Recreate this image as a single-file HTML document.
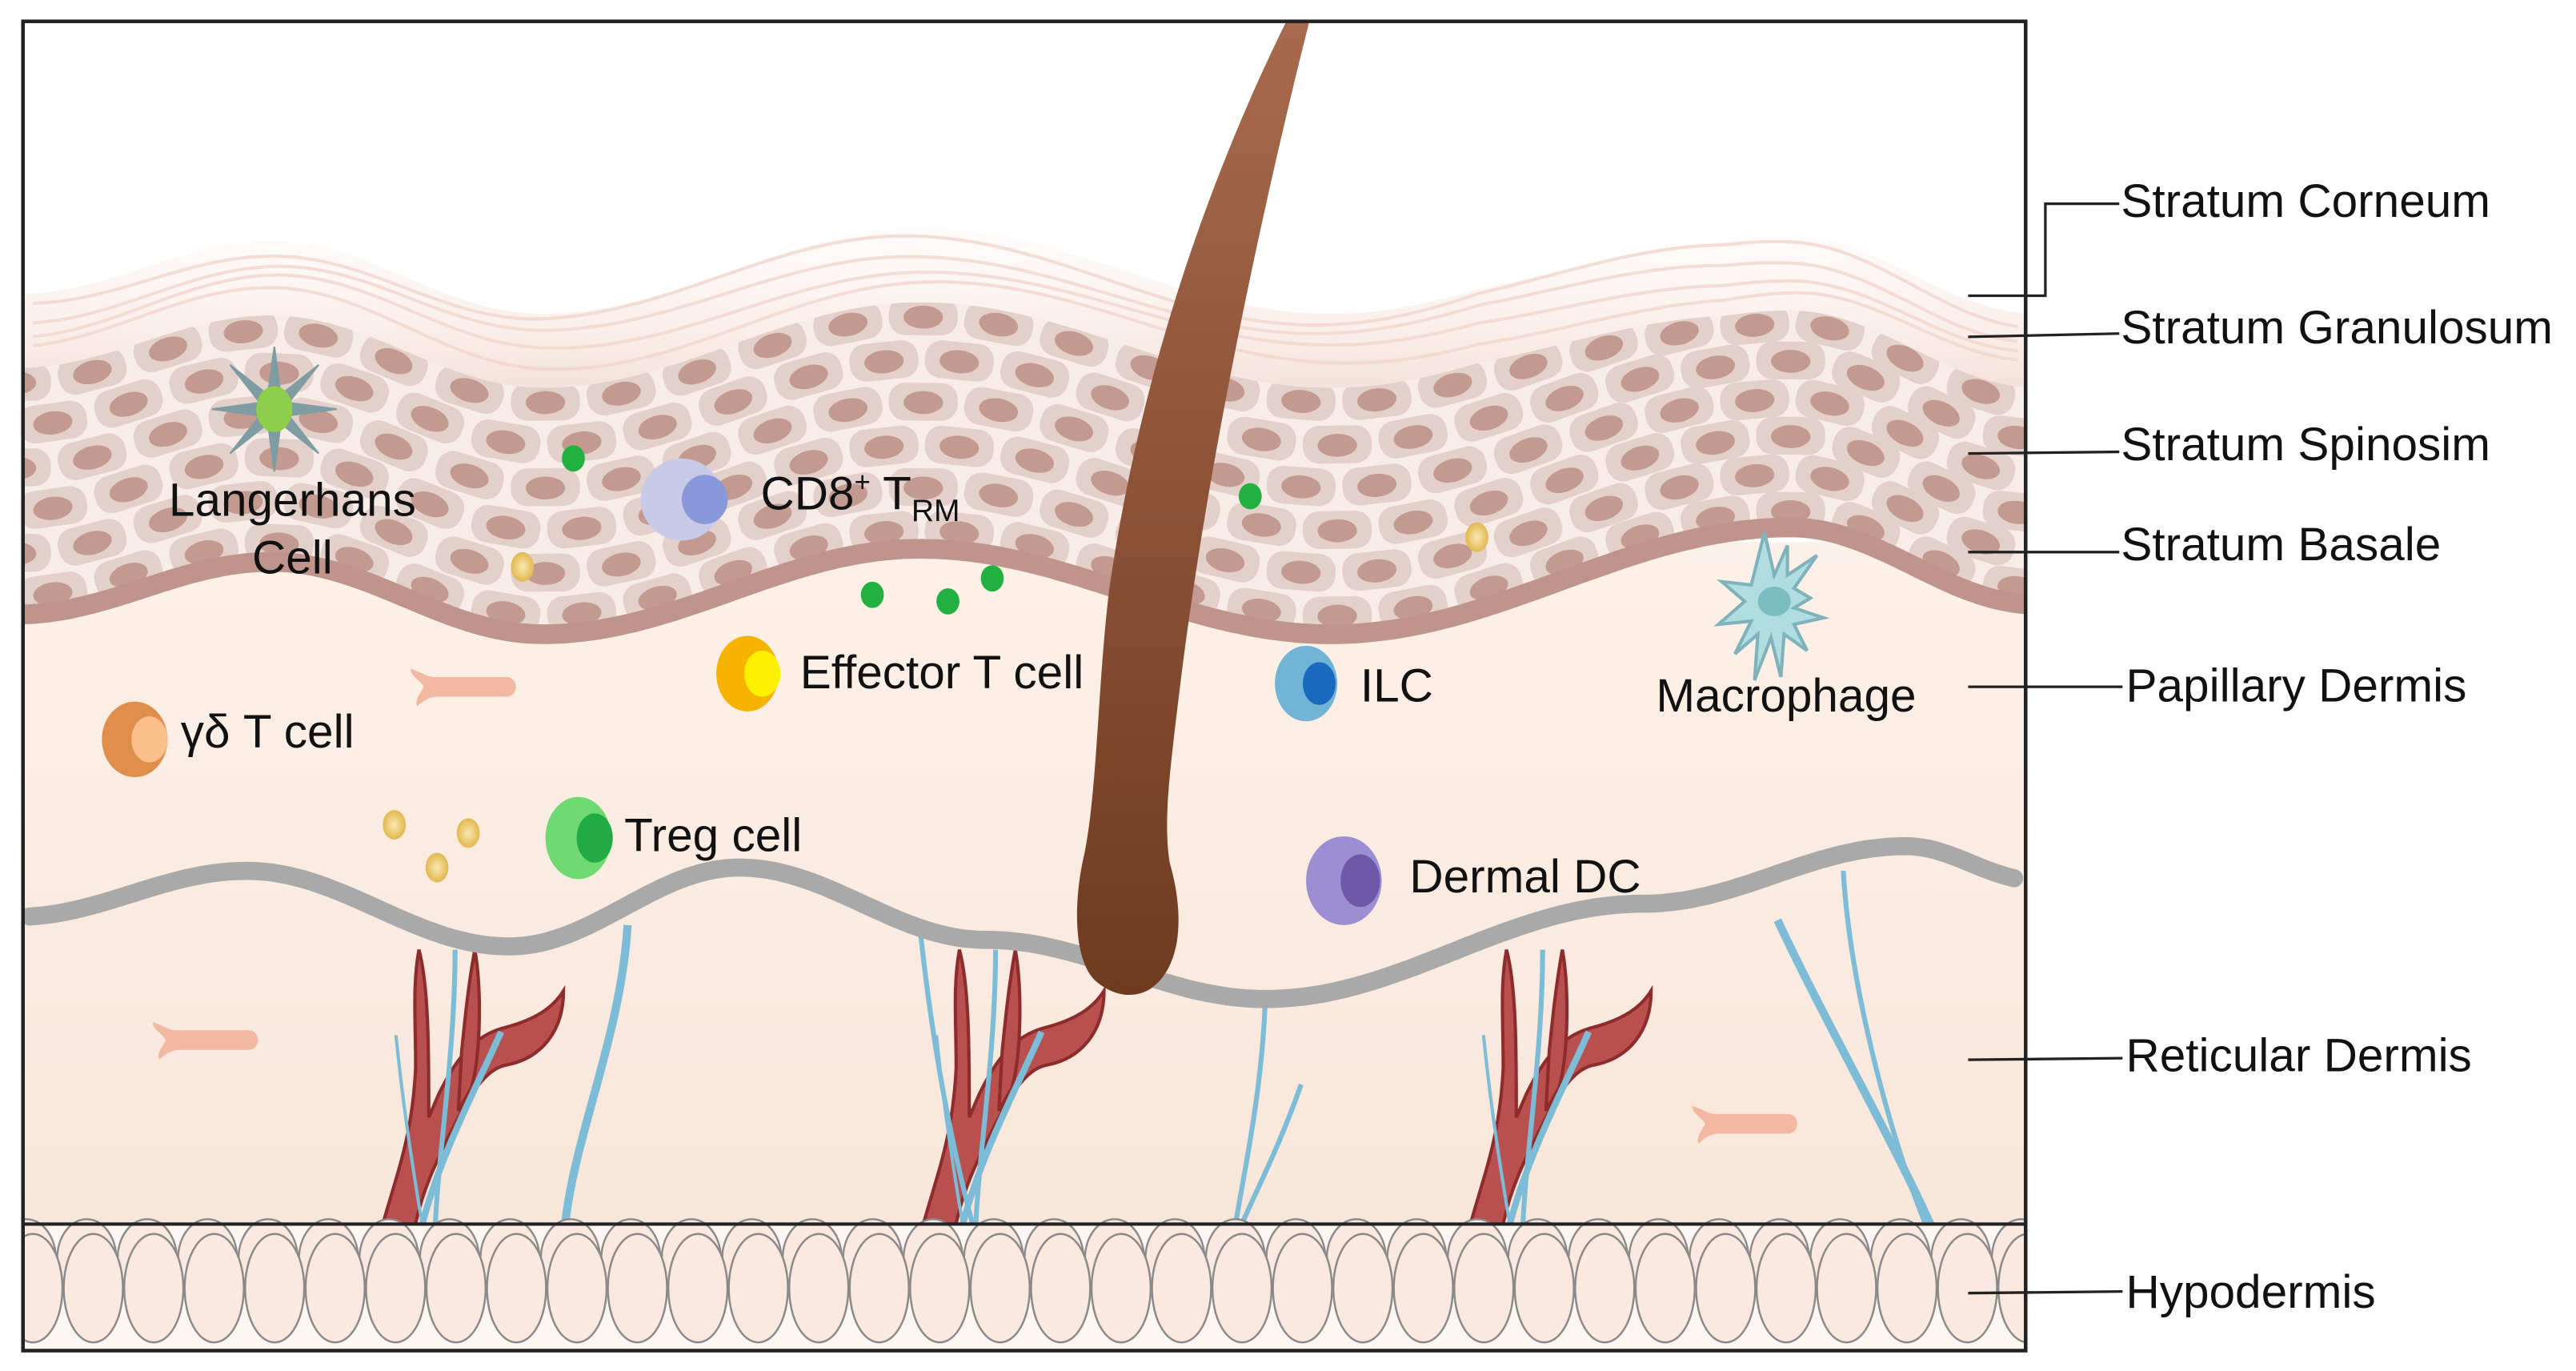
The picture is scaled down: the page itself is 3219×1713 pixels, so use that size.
<!DOCTYPE html>
<html><head><meta charset="utf-8">
<style>
html,body{margin:0;padding:0;background:#fff;}
svg{display:block;}
text{font-family:"Liberation Sans",Arial,sans-serif;fill:#111;}
</style></head>
<body>
<svg id="s" width="3219" height="1713" viewBox="0 0 1568 834.4" preserveAspectRatio="none" xmlns="http://www.w3.org/2000/svg">
<defs>
<linearGradient id="derm" x1="0" y1="0" x2="0" y2="1">
<stop offset="0" stop-color="#fcf1e8"/><stop offset="1" stop-color="#f9e6da"/>
</linearGradient>
<linearGradient id="hair" x1="0" y1="0" x2="0" y2="1">
<stop offset="0" stop-color="#a86a4c"/><stop offset="1" stop-color="#6e3a20"/>
</linearGradient>
<linearGradient id="gran" x1="0" y1="0" x2="0" y2="1">
<stop offset="0" stop-color="#fbf0ec" stop-opacity="0.2"/><stop offset="1" stop-color="#f3ddd5"/>
</linearGradient>
<radialGradient id="yel"><stop offset="0" stop-color="#f8e8b0"/><stop offset="1" stop-color="#e2b850"/></radialGradient>
<clipPath id="frame"><rect x="15" y="14" width="1217" height="807"/></clipPath>
</defs>
<rect x="0" y="0" width="1568" height="834.4" fill="#fff"/>
<g clip-path="url(#frame)">
<rect x="14" y="330" width="1220" height="420" fill="url(#derm)"/>
<g id="epi"></g>
<g id="vessels"></g>
<path id="gray" fill="none" stroke="#a9a9a9" stroke-width="11" stroke-linecap="round"/>
<path d="M783,13 L797,13 C770,120 735,280 718,420 C712,470 708,500 712,525 C722,560 718,590 700,602 C690,608 678,606 668,598 C652,585 654,545 660,520 C668,480 668,420 675,360 C695,220 740,100 783,13 Z" fill="url(#hair)"/>
<g id="hypo"></g>
</g>
<rect x="14" y="13" width="1219" height="809" fill="none" stroke="#222" stroke-width="2.2"/>
<line x1="14" y1="745" x2="1233" y2="745" stroke="#222" stroke-width="2"/>

<g transform="translate(167,249)" stroke="#7f9ca3" fill="#7f9ca3">
<path d="M0,-38 L4,-8 L0,0 L-4,-8Z M0,38 L4,8 L0,0 L-4,8Z M-38,0 L-8,4 L0,0 L-8,-4Z M38,0 L8,4 L0,0 L8,-4Z M-27,-27 L-3,-8 L-8,-3Z M27,-27 L3,-8 L8,-3Z M-27,27 L-3,8 L-8,3Z M27,27 L3,8 L8,3Z" stroke-width="1"/>
<ellipse cx="0" cy="0" rx="11" ry="14" fill="#8dcf4b" stroke="none"/>
</g>
<g transform="translate(1078,366)">
<path d="M-4,-42 L2,-16 L10,-34 L10,-16 L28,-28 L14,-8 L24,-2 L14,4 L32,10 L14,14 L22,30 L8,20 L6,46 L0,22 L-10,48 L-8,20 L-22,32 L-12,12 L-32,14 L-16,0 L-30,-12 L-12,-10 Z" fill="#b0dde2" stroke="#7fb2bb" stroke-width="2"/>
<ellipse cx="2" cy="0" rx="10" ry="9" fill="#7cbdc2"/>
</g>
<ellipse cx="415" cy="304" rx="25" ry="25" fill="#c7cbe8"/>
<ellipse cx="429" cy="304" rx="14" ry="15" fill="#8898d8"/>
<ellipse cx="455" cy="410" rx="19" ry="23" fill="#f6b400"/>
<ellipse cx="464" cy="410" rx="11" ry="14" fill="#fff000"/>
<ellipse cx="795" cy="416" rx="19" ry="23" fill="#72b4d6"/>
<ellipse cx="803" cy="416" rx="10" ry="13" fill="#1a6ac0"/>
<ellipse cx="82" cy="450" rx="20" ry="23" fill="#e08e4c"/>
<ellipse cx="91" cy="450" rx="11" ry="14" fill="#fbbf8e"/>
<ellipse cx="352" cy="510" rx="20" ry="25" fill="#70da72"/>
<ellipse cx="362" cy="510" rx="11" ry="15" fill="#22aa44"/>
<ellipse cx="818" cy="536" rx="23" ry="27" fill="#9b8ed2"/>
<ellipse cx="828" cy="536" rx="12" ry="16" fill="#6c58a4"/>
<g fill="#22b040">
<ellipse cx="349" cy="279" rx="7" ry="8"/><ellipse cx="531" cy="362" rx="7" ry="8"/><ellipse cx="577" cy="366" rx="7" ry="8"/><ellipse cx="604" cy="352" rx="7" ry="8"/><ellipse cx="761" cy="302" rx="7" ry="8"/>
</g>
<g fill="url(#yel)">
<ellipse cx="318" cy="345" rx="7" ry="9"/><ellipse cx="899" cy="327" rx="7" ry="9"/><ellipse cx="240" cy="502" rx="7" ry="9"/><ellipse cx="285" cy="507" rx="7" ry="9"/><ellipse cx="266" cy="528" rx="7" ry="9"/>
</g>
<g fill="#f2b8a2">
<path transform="translate(250,418)" d="M0,-11 C6,-9 10,-6 14,-6 L58,-6 C66,-6 66,6 58,6 L16,6 C12,6 8,8 4,12 C2,8 6,4 8,0 C6,-4 0,-6 0,-11Z"/>
<path transform="translate(93,633)" d="M0,-11 C6,-9 10,-6 14,-6 L58,-6 C66,-6 66,6 58,6 L16,6 C12,6 8,8 4,12 C2,8 6,4 8,0 C6,-4 0,-6 0,-11Z"/>
<path transform="translate(1030,684)" d="M0,-11 C6,-9 10,-6 14,-6 L58,-6 C66,-6 66,6 58,6 L16,6 C12,6 8,8 4,12 C2,8 6,4 8,0 C6,-4 0,-6 0,-11Z"/>
</g>

<g font-size="28.5">
<text x="178" y="314" text-anchor="middle">Langerhans</text>
<text x="178" y="349" text-anchor="middle">Cell</text>
<text x="463" y="310">CD8<tspan font-size="17" dy="-11">+</tspan><tspan dy="11"> T</tspan><tspan font-size="19" dy="7">RM</tspan></text>
<text x="487" y="419">Effector T cell</text>
<text x="828" y="427">ILC</text>
<text x="1008" y="433">Macrophage</text>
<text x="110" y="455">γδ T cell</text>
<text x="380" y="518">Treg cell</text>
<text x="858" y="543">Dermal DC</text>
</g>

<g stroke="#222" stroke-width="1.6" fill="none">
<polyline points="1198,180 1245,180 1245,124 1290,124"/>
<line x1="1198" y1="205" x2="1290" y2="203"/>
<line x1="1198" y1="276" x2="1290" y2="275"/>
<line x1="1198" y1="336" x2="1290" y2="336"/>
<line x1="1198" y1="418" x2="1292" y2="418"/>
<line x1="1198" y1="645" x2="1292" y2="644"/>
<line x1="1198" y1="787" x2="1292" y2="786"/>
</g>
<g font-size="28.5">
<text x="1291" y="132">Stratum Corneum</text>
<text x="1291" y="209">Stratum Granulosum</text>
<text x="1291" y="280">Stratum Spinosim</text>
<text x="1291" y="341">Stratum Basale</text>
<text x="1294" y="427">Papillary Dermis</text>
<text x="1294" y="652">Reticular Dermis</text>
<text x="1294" y="796">Hypodermis</text>
</g>
</svg>
<script>
(function(){
var NS="http://www.w3.org/2000/svg";
function el(t,a,p){var e=document.createElementNS(NS,t);for(var k in a)e.setAttribute(k,a[k]);p.appendChild(e);return e;}
function interp(pts){return function(x){
 if(x<=pts[0][0])return pts[0][1];
 for(var i=0;i<pts.length-1;i++){var a=pts[i],b=pts[i+1];if(x<=b[0]){var t=(x-a[0])/(b[0]-a[0]);var m=(1-Math.cos(t*Math.PI))/2;return a[1]+(b[1]-a[1])*m;}}
 return pts[pts.length-1][1];};}
var bas=interp([[10,374],[165,342],[330,386],[560,334],[810,386],[1090,321],[1240,368]]);
var topf=function(x){return bas(x)-150+ (x>900?18:0)*Math.min(1,(x-900)/150);};
var grayf=interp([[10,558],[150,530],[310,576],[450,528],[600,572],[770,608],[1000,550],[1160,515],[1240,536]]);
function pathOf(f,x0,x1,dy){var d="";for(var x=x0;x<=x1;x+=4){d+=(x==x0?"M":"L")+x+","+(f(x)+(dy||0)).toFixed(1);}return d;}
var epi=document.getElementById("epi");
var d=pathOf(function(x){return topf(x)-45;},10,1240)+" L1240,"+(topf(1240)+10)+" ";
for(var x=1240;x>=10;x-=4)d+="L"+x+","+(topf(x)+10).toFixed(1);
el("path",{d:d+"Z",fill:"url(#gran)"},epi);
for(var k=0;k<4;k++){el("path",{d:pathOf(function(x){return topf(x)-40+k*9+4*Math.sin(x/90+k);},20,1230),fill:"none",stroke:"#f1d6cc","stroke-width":2,opacity:0.8},epi);}
d=pathOf(topf,10,1240);for(x=1240;x>=10;x-=4)d+="L"+x+","+bas(x).toFixed(1);
el("path",{d:d+"Z",fill:"#f7ece8"},epi);
var cp=el("clipPath",{id:"ec"},epi);el("path",{d:d+"Z"},cp);
var g=el("g",{"clip-path":"url(#ec)"},epi);
for(var r=0;r<6;r++){
 var off=r*26+8;
 for(var cx=10+(r%2)*22;cx<1245;cx+=46){
  var th=bas(cx)-topf(cx);var fy=topf(cx)+off*(th/150);
  if(fy>bas(cx))continue;
  var sl=(bas(cx+5)-bas(cx-5))/10;var ang=Math.atan(sl)*180/Math.PI;
  var gg=el("g",{transform:"translate("+cx+","+fy.toFixed(1)+") rotate("+ang.toFixed(1)+")"},g);
  el("rect",{x:-21,y:-11,width:42,height:23,rx:10,fill:"#e4d0ca"},gg);
  el("ellipse",{cx:0,cy:1,rx:12,ry:7,fill:"#c39a90"},gg);
 }
}
el("path",{d:pathOf(bas,10,1240),fill:"none",stroke:"#bf948b","stroke-width":12},epi);
document.getElementById("gray").setAttribute("d",pathOf(grayf,18,1226));
var vs=document.getElementById("vessels");
function vessel(x0){
 var gg=el("g",{transform:"translate("+x0+",0)"},vs);
 el("path",{d:"M-10,745 C0,710 8,690 10,650 C10,620 8,600 12,578 C18,600 18,640 18,680 L24,666 C32,650 42,632 62,626 C78,622 92,616 100,603 C100,628 86,644 66,648 C52,650 42,668 32,688 C22,708 14,725 10,745 Z",fill:"#b85050",stroke:"#8e2b2b","stroke-width":2},gg);
 el("path",{d:"M46,578 C50,600 50,640 44,662 L36,676 L38,640 C40,620 42,600 46,578Z",fill:"#b85050",stroke:"#8e2b2b","stroke-width":2},gg);
 el("path",{d:"M-2,630 C2,670 8,710 14,745",fill:"none",stroke:"#7cbcd6","stroke-width":2},gg);
 el("path",{d:"M34,578 C34,640 24,700 22,745",fill:"none",stroke:"#7cbcd6","stroke-width":3},gg);
 el("path",{d:"M62,628 C48,660 26,700 14,745",fill:"none",stroke:"#7cbcd6","stroke-width":4},gg);
}
vessel(243);vessel(572);vessel(905);
var fb=[["M382,563 C378,630 350,690 344,745","5"],["M770,612 C768,660 760,700 752,745","3"],["M792,660 C778,700 762,730 756,745","3"],["M1082,560 C1110,620 1150,690 1175,745","5"],["M1122,530 C1126,600 1150,690 1172,745","3"],["M560,565 C568,640 580,700 592,745","3"]];
fb.forEach(function(f){el("path",{d:f[0],fill:"none",stroke:"#7cbcd6","stroke-width":f[1]},vs);});
var hy=document.getElementById("hypo");
el("rect",{x:14,y:746,width:1220,height:76,fill:"#fdf6f2"},hy);
for(var row=0;row<2;row++){
 for(var i=0;i<34;i++){
  var hx=20+i*36.8+(row?0:-4), hy0=row?784:766;
  el("ellipse",{cx:hx.toFixed(1),cy:hy0,rx:18,ry:row?33:24,fill:"#fbe8df",stroke:"#8a8a8a","stroke-width":1.2},hy);
 }
}
})();
</script>
</body></html>
